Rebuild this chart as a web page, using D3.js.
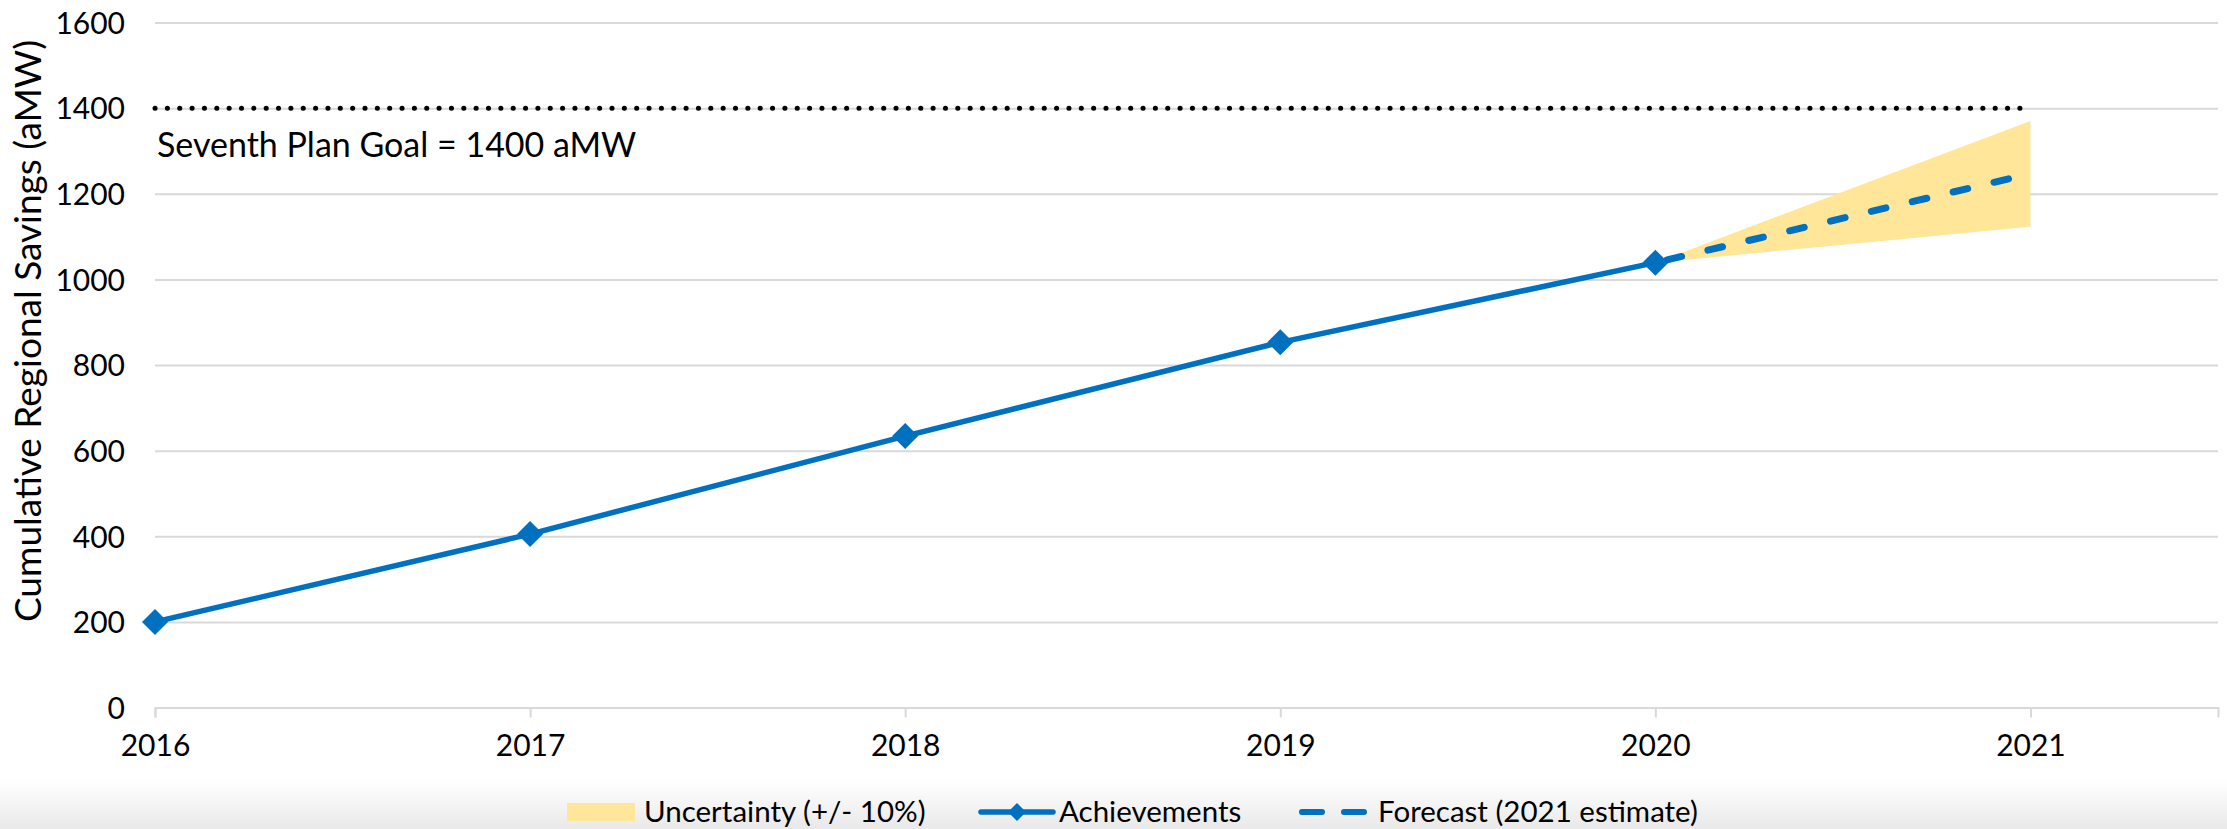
<!DOCTYPE html>
<html>
<head>
<meta charset="utf-8">
<script src="https://cdnjs.cloudflare.com/ajax/libs/d3/7.8.5/d3.min.js"></script>
<style>
  body { margin: 0; background: #fff; }
  svg text { font-family: Lato, "Open Sans", sans-serif; fill: #000; }
</style>
</head>
<body>
<div id="chart"></div>
<script>
// data
var years = [2016, 2017, 2018, 2019, 2020];
var achievements = [200, 405, 634, 853, 1039];
var forecastYears = [2020, 2021];
var forecast = [1039, 1247];
var bandLow = [1039, 1123];
var bandHigh = [1039, 1370];
var goal = 1400;
var goalYears = [2016, 2021];
var xTicks = [2016, 2017, 2018, 2019, 2020, 2021];
var yTicks = [0, 200, 400, 600, 800, 1000, 1200, 1400, 1600];
var legendLabels = ["Uncertainty (+/- 10%)", "Achievements", "Forecast (2021 estimate)"];

var width = 2227,
    height = 829;

var blue = "#0070c0",
    gold = "#ffe699",
    grid = "#d9d9d9";

var x = d3.scaleLinear().domain([2016, 2021.5]).range([155, 2218]);
var y = d3.scaleLinear().domain([0, 1600]).range([707.5, 22.5]);

var svg = d3.select("#chart").append("svg")
    .attr("width", width)
    .attr("height", height);

// grey fade behind the legend
var defs = svg.append("defs");
var grad = defs.append("linearGradient")
    .attr("id", "fade")
    .attr("x1", 0).attr("y1", 0).attr("x2", 0).attr("y2", 1);
grad.append("stop").attr("offset", "0%").attr("stop-color", "#ffffff");
grad.append("stop").attr("offset", "100%").attr("stop-color", "#e9e9e9");
svg.append("rect")
    .attr("x", 0).attr("y", 780)
    .attr("width", width).attr("height", height - 780)
    .attr("fill", "url(#fade)");

// gridlines + y labels
var yAxis = svg.append("g")
    .attr("transform", "translate(" + x.range()[0] + ",0)")
    .call(d3.axisLeft(y).tickValues(yTicks).tickFormat(d3.format("d"))
        .tickSize(-(x.range()[1] - x.range()[0])).tickPadding(30));
yAxis.select(".domain").remove();
yAxis.selectAll("line").attr("stroke", grid).attr("stroke-width", 2);
yAxis.selectAll("text").style("font-size", "30px").attr("dy", "0.36em");

// x axis
var xAxis = svg.append("g")
    .attr("transform", "translate(0," + y(0) + ")")
    .call(d3.axisBottom(x).tickValues(xTicks).tickFormat(d3.format("d")).tickSize(10).tickPadding(17));
xAxis.select(".domain").attr("stroke", grid).attr("stroke-width", 2);
xAxis.selectAll("line").attr("stroke", grid).attr("stroke-width", 2);
xAxis.selectAll("text").style("font-size", "30px");

// y axis title
svg.append("text")
    .attr("transform", "translate(41,331) rotate(-90)")
    .attr("text-anchor", "middle")
    .style("font-size", "37px")
    .text("Cumulative Regional Savings (aMW)");

// uncertainty band
var bandData = forecastYears.map(function (d, i) {
    return { year: d, lo: bandLow[i], hi: bandHigh[i] };
});
svg.append("path")
    .datum(bandData)
    .attr("fill", gold)
    .attr("d", d3.area()
        .x(function (d) { return x(d.year); })
        .y0(function (d) { return y(d.lo); })
        .y1(function (d) { return y(d.hi); }));

// goal line
svg.append("line")
    .attr("x1", x(goalYears[0])).attr("x2", x(goalYears[1]))
    .attr("y1", y(goal)).attr("y2", y(goal))
    .attr("stroke", "#000")
    .attr("stroke-width", 5)
    .attr("stroke-linecap", "round")
    .attr("stroke-dasharray", "0.1 12.25");

svg.append("text")
    .attr("x", 157)
    .attr("y", 157)
    .style("font-size", "34px")
    .text("Seventh Plan Goal = " + goal + " aMW");

var line = d3.line()
    .x(function (d) { return x(d[0]); })
    .y(function (d) { return y(d[1]); });

function diamond(r) {
    return "M0," + (-r) + "L" + r + ",0L0," + r + "L" + (-r) + ",0Z";
}

// forecast
svg.append("path")
    .datum(d3.zip(forecastYears, forecast))
    .attr("fill", "none")
    .attr("stroke", blue)
    .attr("stroke-width", 7)
    .attr("stroke-linecap", "round")
    .attr("stroke-dasharray", "15 27")
    .attr("stroke-dashoffset", -12)
    .attr("d", line);

// achievements
svg.append("path")
    .datum(d3.zip(years, achievements))
    .attr("fill", "none")
    .attr("stroke", blue)
    .attr("stroke-width", 5.5)
    .attr("d", line);

svg.selectAll(".pt")
    .data(d3.zip(years, achievements))
    .enter().append("path")
    .attr("class", "pt")
    .attr("fill", blue)
    .attr("d", diamond(13))
    .attr("transform", function (d) {
        return "translate(" + x(d[0]) + "," + y(d[1]) + ")";
    });

// legend
var lg = svg.append("g");
var ly = 812;
lg.append("rect")
    .attr("x", 567).attr("y", ly - 9)
    .attr("width", 68).attr("height", 18)
    .attr("fill", gold);
lg.append("text").attr("x", 644).attr("y", ly + 10)
    .style("font-size", "29.5px").text(legendLabels[0]);

lg.append("line")
    .attr("x1", 981).attr("x2", 1053).attr("y1", ly).attr("y2", ly)
    .attr("stroke", blue).attr("stroke-width", 5.5).attr("stroke-linecap", "round");
lg.append("path")
    .attr("d", diamond(9))
    .attr("transform", "translate(1017," + ly + ")")
    .attr("fill", blue);
lg.append("text").attr("x", 1059).attr("y", ly + 10)
    .style("font-size", "29.5px").text(legendLabels[1]);

lg.append("line")
    .attr("x1", 1302).attr("x2", 1364).attr("y1", ly).attr("y2", ly)
    .attr("stroke", blue).attr("stroke-width", 6).attr("stroke-linecap", "round")
    .attr("stroke-dasharray", "20 22");
lg.append("text").attr("x", 1378).attr("y", ly + 10)
    .style("font-size", "29.5px").text(legendLabels[2]);
</script>
</body>
</html>
